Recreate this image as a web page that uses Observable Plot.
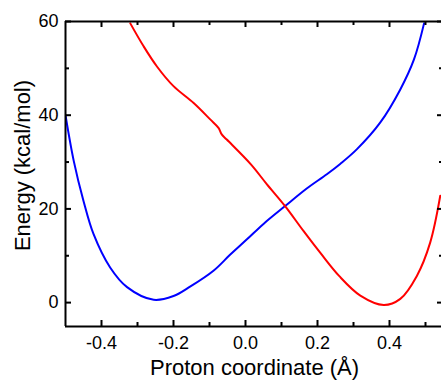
<!DOCTYPE html>
<html><head><meta charset="utf-8">
<script src="https://cdn.jsdelivr.net/npm/d3@7"></script>
<script src="https://cdn.jsdelivr.net/npm/@observablehq/plot@0.6"></script>
<style>body{margin:0;background:#fff} svg{display:block}</style>
</head><body><div id="chart"></div>
<script>
// Blue curve (proton on left site)
const blueX = [-0.5,-0.477,-0.45,-0.422,-0.376,-0.329,-0.255,-0.2,-0.154,-0.089,-0.043,0.004,0.05,0.11,0.171,0.226,0.263,0.309,0.374,0.43,0.468,0.496];
const blueY = [40,30.2,21.7,14.6,7.5,3.3,0.6,1.4,3.4,6.8,10.2,13.5,16.8,20.6,24.4,27.4,29.6,32.7,38.4,45.5,51.9,59.6];
// Red curve (proton on right site)
const redX = [-0.32,-0.283,-0.246,-0.2,-0.144,-0.098,-0.075,-0.066,-0.052,0.015,0.059,0.11,0.161,0.208,0.26,0.319,0.384,0.43,0.476,0.513,0.541];
const redY = [59.6,54.7,50.4,46.2,42.6,39.1,37.3,35.9,34.8,29.5,25.3,20.6,15.3,10.6,5.7,1.5,-0.5,0.8,5.7,12.8,22.8];

const xMajor = [-0.4,-0.2,0,0.2,0.4];
const xMinor = [-0.3,-0.1,0.1,0.3,0.5];
const yMajor = [0,20,40,60];
const yMinor = [10,30,50];
const xDomain = [-0.5,0.55];
const yDomain = [-5.1,60];
const xTitle = "Proton coordinate (Å)";
const yTitle = "Energy (kcal/mol)";

const blue = blueX.map((x,i)=>({x, y: blueY[i]}));
const red = redX.map((x,i)=>({x, y: redY[i]}));

const W=441, H=385, mL=65, mR=-2, mT=21, mB=59;
const innerW = W-mL-mR, innerH = H-mT-mB;
const tk = {stroke:"black", strokeWidth:2};

const chart = Plot.plot({
  width:W, height:H, marginLeft:mL, marginRight:mR, marginTop:mT, marginBottom:mB,
  style:{fontFamily:"'Liberation Sans', Arial, sans-serif", fontSize:"18px", background:"white", color:"black"},
  x:{domain:xDomain}, y:{domain:yDomain},
  marks:[
    Plot.line(blue,{x:"x",y:"y",stroke:"#0000ff",strokeWidth:2,curve:"catmull-rom",clip:true}),
    Plot.line(red,{x:"x",y:"y",stroke:"#ff0000",strokeWidth:2,curve:"catmull-rom",clip:true}),
    Plot.tickX(xMajor,{x:d=>d, insetTop:innerH-6, ...tk}),
    Plot.tickX(xMajor,{x:d=>d, insetBottom:innerH-6, ...tk}),
    Plot.tickX(xMinor,{x:d=>d, insetTop:innerH-4, ...tk}),
    Plot.tickX(xMinor,{x:d=>d, insetBottom:innerH-4, ...tk}),
    Plot.tickY(yMajor,{y:d=>d, insetRight:innerW-6, ...tk}),
    Plot.tickY(yMajor,{y:d=>d, insetLeft:innerW-6, ...tk}),
    Plot.tickY(yMinor,{y:d=>d, insetRight:innerW-4, ...tk}),
    Plot.tickY(yMinor,{y:d=>d, insetLeft:innerW-4, ...tk}),
    Plot.ruleX([xDomain[0]],{stroke:"black",strokeWidth:2}),
    Plot.ruleY([yDomain[0]],{stroke:"black",strokeWidth:2}),
    Plot.ruleY([yDomain[1]],{stroke:"black",strokeWidth:2}),
    Plot.axisX({ticks:xMajor, tickSize:0, tickPadding:10, tickFormat:d=>d.toFixed(1), fontSize:18, label:null}),
    Plot.axisY({ticks:yMajor, tickSize:0, tickPadding:7, tickFormat:d=>String(d), fontSize:18, label:null}),
    Plot.text([xTitle],{frameAnchor:"bottom", dy:48.7, fontSize:22, fill:"black"}),
    Plot.text([yTitle],{frameAnchor:"left", textAnchor:"middle", rotate:-90, dx:-43, dy:-8.5, fontSize:22, fill:"black"})
  ]
});
document.getElementById("chart").appendChild(chart);
</script>
</body></html>
